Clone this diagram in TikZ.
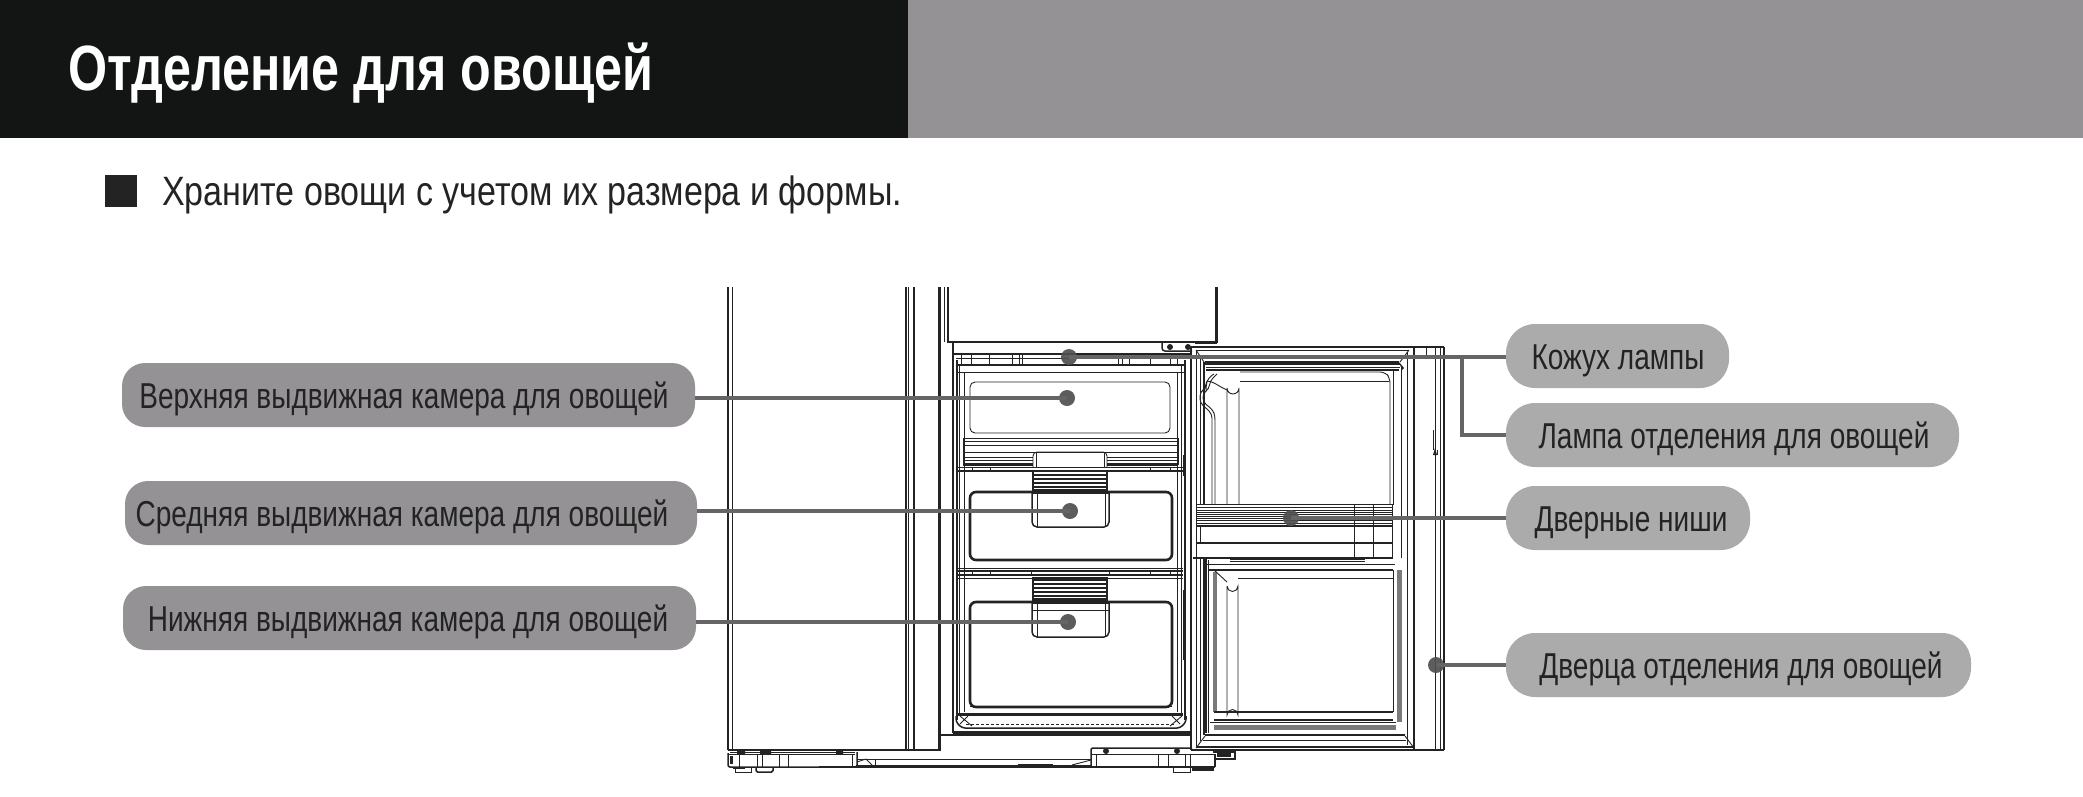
\documentclass[tikz,border=0pt]{standalone}
\usepackage{fontspec}
\setmainfont{Liberation Sans}
\newfontfamily\titlefont[FakeStretch=0.785]{Liberation Sans Bold}
\newfontfamily\labelfont[FakeStretch=0.778]{Liberation Sans}
\newfontfamily\subfont[FakeStretch=0.83]{Liberation Sans}
\definecolor{headblack}{HTML}{131514}
\definecolor{headgrey}{HTML}{949295}
\definecolor{pillright}{HTML}{ABABAB}
\definecolor{inkc}{HTML}{232323}
\definecolor{leader}{HTML}{656565}
\definecolor{dotc}{HTML}{4F4F4F}
\definecolor{bandc}{HTML}{7A7A7A}
\newcommand{\tx}[2]{\makebox[0pt][c]{\hspace*{#1pt}\raisebox{-13pt}[0pt][0pt]{#2}}}
\tikzset{
 x=1pt,y=-1pt,
 thinl/.style={draw=inkc,line width=0.9pt},
 medl/.style={draw=inkc,line width=1.5pt},
 thickl/.style={draw=inkc,line width=2.6pt},
 pill/.style={rounded corners=26pt,minimum height=64pt,inner sep=0pt,text=inkc,font=\labelfont\fontsize{36}{40}\selectfont},
 pilll/.style={pill,fill=headgrey,rounded corners=23pt},
 pillr/.style={pill,fill=pillright,rounded corners=29pt},
 target/.style={circle,fill=dotc,fill opacity=0.92,minimum size=16pt,inner sep=0pt},
 conn/.style={draw=leader,line width=3.6pt},
}
\begin{document}
\begin{tikzpicture}
\useasboundingbox (0,0) rectangle (2083,796);
% header
\fill[headblack] (0,0) rectangle (908,138);
\fill[headgrey] (908,0) rectangle (2083,138);
\node[anchor=base west,inner sep=0pt,text=white,font=\titlefont\fontsize{64}{70}\selectfont] (title) at (68,90) {Отделение для овощей};
\fill[inkc] (105,175) rectangle (137,207);
\node[anchor=base west,inner sep=0pt,text=inkc,font=\subfont\fontsize{41}{46}\selectfont] (sub) at (162,205) {Храните овощи с учетом их размера и формы.};

% ---- left door and cabinet
\draw[medl] (728,287) -- (728,750);
\draw[thinl] (732,287) -- (732,750);
\draw[medl] (906,287) -- (906,750);
\draw[thinl] (908,287) -- (908,750);
\draw[medl] (914,287) -- (914,750);
\draw[thickl] (939.5,287) -- (939.5,750);
\draw[medl] (728,750) -- (941,750);
\draw[thinl] (944,287) -- (944,342);
\draw[medl] (948,287) -- (948,342) -- (1217,342) -- (1217,287);
\draw[thinl] (1215,287) -- (1215,342);
\draw[medl] (953,342) -- (953,733);
\draw[thickl] (953,354) -- (1192,354);
\draw[thickl] (939,735) -- (1192,735);
\draw[medl] (953,733) -- (1190,733);
% hinge
\draw[medl,rounded corners=3pt] (1162,342) -- (1162,351) -- (1192,351);
\fill[inkc] (1170,347) circle (3);
\fill[inkc] (1188,347) circle (3);
\draw[thinl] (1195,343) -- (1217,343) (1195,346) -- (1217,346);

% ---- top rail ticks
\draw[thinl] (956,358) -- (1184,358);
\foreach \xx in {961,971,989,1012,1019,1022,1118,1122,1129,1150,1170,1177}
  \draw[thinl] (\xx,355) -- (\xx,365);

% ---- drawer column side rails
\draw[medl] (957,360) -- (957,720);
\draw[thinl] (959,365) -- (959,716);
\draw[thinl] (964,372) -- (964,712);
\draw[thinl] (1177,372) -- (1177,712);
\draw[thinl] (1181,365) -- (1181,716);
\draw[medl] (1185,360) -- (1185,720);
\fill[inkc] (955.5,455) rectangle (958,476);
\fill[inkc] (955.5,478) rectangle (958,528);
\fill[inkc] (955.5,545) rectangle (958,600);
\fill[inkc] (1183,455) rectangle (1186,476);
\fill[inkc] (1183,590) rectangle (1186,660);

% ---- top drawer
\draw[medl] (957,365) -- (1184,365);
\draw[thinl] (957,372) -- (1184,372);
\draw[thinl,rounded corners=5pt] (970,382) rectangle (1170,433);
\foreach \yy in {438,441,445,452}
  \draw[thinl] (963,\yy) -- (1178,\yy);
\foreach \yy in {457,460,463}{
  \draw[thinl] (963,\yy) -- (1033,\yy);
  \draw[thinl] (1107,\yy) -- (1178,\yy);}
\draw[medl] (963,465) -- (1033,465) (1107,465) -- (1178,465);
\draw[thinl] (963,438) -- (963,465) (1178,438) -- (1178,465);
\fill[white] (1033,453) rectangle (1107,466);
\draw[thinl,rounded corners=4pt] (1033,467) -- (1033,452) -- (1107,452) -- (1107,467);
\draw[thinl] (1036,453) -- (1036,467) (1104,453) -- (1104,467);
\draw[thinl] (958,467) -- (1183,467);
\draw[medl] (958,471) -- (1183,471);
\foreach \xx in {972,990,1150,1170}
  \draw[thinl] (\xx,467) -- (\xx,471);

% ---- middle drawer
\draw[thickl,rounded corners=6pt] (970,560) -- (970,492) -- (1172,492) -- (1172,560) -- cycle;
\fill[white] (1033,471) rectangle (1107,492);
\draw[medl] (1033,471) rectangle (1107,492);
\foreach \yy in {475,479,483,487,490}
  \draw[medl] (1033,\yy) -- (1107,\yy);
\fill[white] (1033,493) rectangle (1108,526);
\draw[medl,rounded corners=5pt] (1032,492) -- (1032,527) -- (1109,527) -- (1109,492);
\draw[thinl] (1037,492) -- (1037,527) (1105,492) -- (1105,527);
\draw[medl] (1032,493) -- (1109,493);
\draw[thinl] (958,568) -- (1183,568);
\draw[medl] (958,571) -- (1183,571);
\foreach \xx in {972,990,1031,1109,1150,1170}
  \draw[thinl] (\xx,571) -- (\xx,575);
\draw[medl] (958,575) -- (1183,575);
\draw[thinl] (958,578) -- (1183,578);

% ---- bottom drawer
\draw[thickl,rounded corners=6pt] (970,707) -- (970,602) -- (1172,602) -- (1172,707) -- cycle;
\fill[white] (1033,578) rectangle (1107,601);
\fill[inkc] (1033,578) rectangle (1107,581);
\draw[medl] (1033,578) rectangle (1107,601);
\foreach \yy in {584,588,592,596,599}
  \draw[medl] (1033,\yy) -- (1107,\yy);
\fill[white] (1033,603) rectangle (1108,636);
\draw[medl,rounded corners=5pt] (1032,602) -- (1032,637) -- (1109,637) -- (1109,602);
\draw[thinl] (1037,602) -- (1037,637) (1105,602) -- (1105,637);
\draw[medl] (1032,603) -- (1109,603);
\draw[thinl] (1032,610) -- (1109,610);
\draw[thinl] (970,706) -- (1172,706);
% bottom tray
\draw[thickl] (958,714.5) -- (1183,714.5);
\draw[medl,rounded corners=3pt] (956,716) -- (956,722) -- (962,728) -- (1180,728) -- (1186,722) -- (1186,716);
\draw[thinl,densely dashed] (966,724) -- (1176,724);
\draw[thinl] (960,716) -- (972,726) (968,716) -- (960,724) (1182,716) -- (1170,726) (1172,716) -- (1180,724);
\draw[thinl] (954,731) -- (1190,731);

% ---- base, left foot
\draw[thinl] (730,752.5) -- (855,752.5);
\draw[medl,rounded corners=2pt] (728,753) -- (728,767) -- (857,767) -- (857,752);
\draw[medl] (728,754.5) -- (855,754.5);
\foreach \xx in {739,757,762,779,788,852}
  \draw[thinl] (\xx,754) -- (\xx,767);
\fill[inkc] (737,750) rectangle (745,754) (760,750) rectangle (771,754) (836,750) rectangle (843,754);
\fill[inkc] (730,756) rectangle (733,764);
\draw[thinl] (735,767) -- (735,772) -- (751,772) -- (751,767);
\fill[inkc] (733,767) rectangle (745,769);
\draw[medl,rounded corners=1.5pt] (756,767) -- (756,772) -- (773,772) -- (773,767);
% base middle
\draw[thinl] (857,759) -- (1091,759);
\draw[thinl] (857,762) -- (866,759) -- (872,765) (1091,760) -- (1072,765);
\draw[thinl] (875,759) -- (875,766);
\draw[medl] (819,767) -- (1091,767);
\draw[thinl] (857,765) -- (1091,765);
\draw[thinl] (1018,767) -- (1018,764) -- (1052,764) -- (1052,767);
% base, right foot
\draw[medl,rounded corners=1.5pt] (1091,767) -- (1091,748) -- (1192,748);
\draw[medl] (1091,754.5) -- (1215,754.5);
\draw[medl] (1091,767) -- (1215,767);
\draw[medl] (1215,754) -- (1215,767);
\foreach \xx in {1096,1158,1168,1185,1190}
  \draw[thinl] (\xx,755) -- (\xx,767);
\fill[inkc] (1106,751) circle (3) (1177,751) circle (3);
\draw[thinl] (1173,767) -- (1173,772) -- (1190,772) -- (1190,767);
\fill[inkc] (1192,767) rectangle (1214,771);
\draw[medl] (1213,752) -- (1235,752) -- (1235,759) -- (1216,759);
\fill[inkc] (1217,753) rectangle (1231,757);

% ---- vegetable door, outer frame
\draw[medl] (1191,347) -- (1444,347);
\draw[medl] (1191,347) -- (1191,750);
\draw[medl] (1191,750) -- (1444,750);
\draw[thickl] (1414,347) -- (1414,750);
\draw[thinl] (1407,352) -- (1407,745);
\draw[thinl] (1196,350) -- (1196,748);
\draw[thinl] (1200,356) -- (1200,741);
\draw[medl] (1204,362) -- (1204,735);
\draw[medl] (1435.5,347) -- (1435.5,750);
\draw[thinl] (1440,347) -- (1440,750);
\draw[medl] (1444,347) -- (1444,750);
\draw[thinl] (1426,347) -- (1426,357);
% top bands
\draw[thinl] (1196,350) -- (1409,350);
\draw[medl] (1196,357) -- (1414,357);
\draw[thinl] (1196,350) -- (1204,362) (1409,350) -- (1400,362);
\draw[medl] (1204,364) -- (1400,364);
\draw[thinl] (1206,367) -- (1400,367);
\draw[medl] (1206,370) -- (1399,370);
\fill[inkc] (1205,361) rectangle (1399,364);
\draw[thinl,rounded corners=5pt] (1240,372) -- (1385,372) -- (1390,378) -- (1390,505);
\draw[medl] (1240,381.5) -- (1389,381.5);
\draw[thinl] (1393,370) -- (1393,505);
\draw[thinl] (1401,366) -- (1401,558);
\fill[inkc] (1399,362) -- (1404,368) -- (1402,370) -- cycle;
% upper left curves
\draw[thinl] (1227,504) -- (1227,388) arc[start angle=180,end angle=0,radius=6] -- (1239,504);
\draw[thinl] (1227,390) .. controls (1218,386) and (1213,381) .. (1207,381);
\draw[thinl,rounded corners=4pt] (1214,374) -- (1208,378) -- (1206,386) -- (1206,388) -- (1200,392) -- (1200,403) -- (1206,408) -- (1212,414) -- (1212,504);
\draw[thinl,rounded corners=4pt] (1217,374) -- (1210,381) -- (1209,389) -- (1203,393) -- (1203,402) -- (1213,410) -- (1215,416) -- (1215,504);

% ---- door shelf
\fill[white] (1197,505) rectangle (1391,557);
\draw[thinl] (1196,504) -- (1392,504);
\draw[thinl] (1196,504) -- (1196,526) (1392,504) -- (1392,526);
\foreach \yy in {507,510,512,514,516,518,520,523}
  \draw[thinl] (1196,\yy) -- (1392,\yy);
\draw[medl] (1196,526) -- (1392,526);
\draw[medl] (1196,543) -- (1392,543);
\draw[medl] (1193,558) -- (1393,558);
\draw[thinl] (1354,504) -- (1354,558) (1373,504) -- (1373,558);
\draw[thinl] (1200,526) -- (1200,543) (1392,526) -- (1392,558);
\draw[thinl] (1230,559) -- (1365,559);
\draw[thinl] (1230,561) -- (1365,561);

% ---- door lower bin
\draw[medl] (1206,558) -- (1206,733);
\draw[thinl] (1208,560) -- (1208,733);
\draw[thinl] (1206,564) -- (1395,564);
\draw[medl] (1208,570) -- (1393,570);
\fill[bandc] (1213,572) rectangle (1217,712);
\draw[thinl] (1238,578) -- (1393,578);
\draw[thinl] (1227,586) -- (1227,715) arc[start angle=180,end angle=360,radius=5.5] -- (1238,586) arc[start angle=0,end angle=180,radius=5.5];
\draw[thinl] (1214,570) -- (1227,582);
\fill[bandc] (1397,570) rectangle (1402,722);
\draw[thinl] (1393,570) -- (1393,712);
\draw[medl] (1214,712) -- (1393,712);
\draw[medl] (1214,720) -- (1393,720);
\fill[bandc] (1214,725) rectangle (1396,730);
\draw[thinl] (1210,722) -- (1396,722);
\draw[thickl] (1205,735) -- (1405,735);
\draw[thinl] (1196,748) -- (1205,736) (1414,748) -- (1405,736);
\draw[thinl] (1203,740) -- (1406,740);
\draw[medl] (1196,747) -- (1414,747);
\draw[thinl] (1433,430) -- (1433,450) (1437,450) -- (1437,455);
\fill[inkc] (1435,448) -- (1437,455) -- (1433,455) -- cycle;

% ---- labels
\node[pilll,minimum width=573pt] (p1) at (408.5,395) {\tx{-9}{Верхняя выдвижная камера для овощей}};
\node[pilll,minimum width=572pt] (p2) at (411,513) {\tx{-18}{Средняя выдвижная камера для овощей}};
\node[pilll,minimum width=573pt] (p3) at (409.5,618) {\tx{-3}{Нижняя выдвижная камера для овощей}};
\node[pillr,minimum width=223pt] (r1) at (1617.5,356) {\tx{1}{Кожух лампы}};
\node[pillr,minimum width=453pt] (r2) at (1732.5,435) {\tx{3}{Лампа отделения для овощей}};
\node[pillr,minimum width=244pt] (r3) at (1628,518) {\tx{6}{Дверные ниши}};
\node[pillr,minimum width=465pt] (r4) at (1738.5,665) {\tx{5}{Дверца отделения для овощей}};

% ---- targets and leaders
\node[target] (d1) at (1067,398) {};
\node[target] (d2) at (1070,511) {};
\node[target] (d3) at (1068,622) {};
\node[target] (d4) at (1069,357) {};
\node[target] (d5) at (1291,518) {};
\node[target] (d6) at (1436,665) {};
\draw[conn] (p1.east |- d1.center) -- (d1.center);
\draw[conn] (p2.east |- d2.center) -- (d2.center);
\draw[conn] (p3.east |- d3.center) -- (d3.center);
\draw[conn] (r1.west |- d4.center) -- (d4.center);
\draw[conn] (r3.west |- d5.center) -- (d5.center);
\draw[conn] (r4.west |- d6.center) -- (d6.center);
\coordinate (bend) at (1462,357);
\draw[conn] (bend) |- (r2.west);
\end{tikzpicture}
\end{document}
